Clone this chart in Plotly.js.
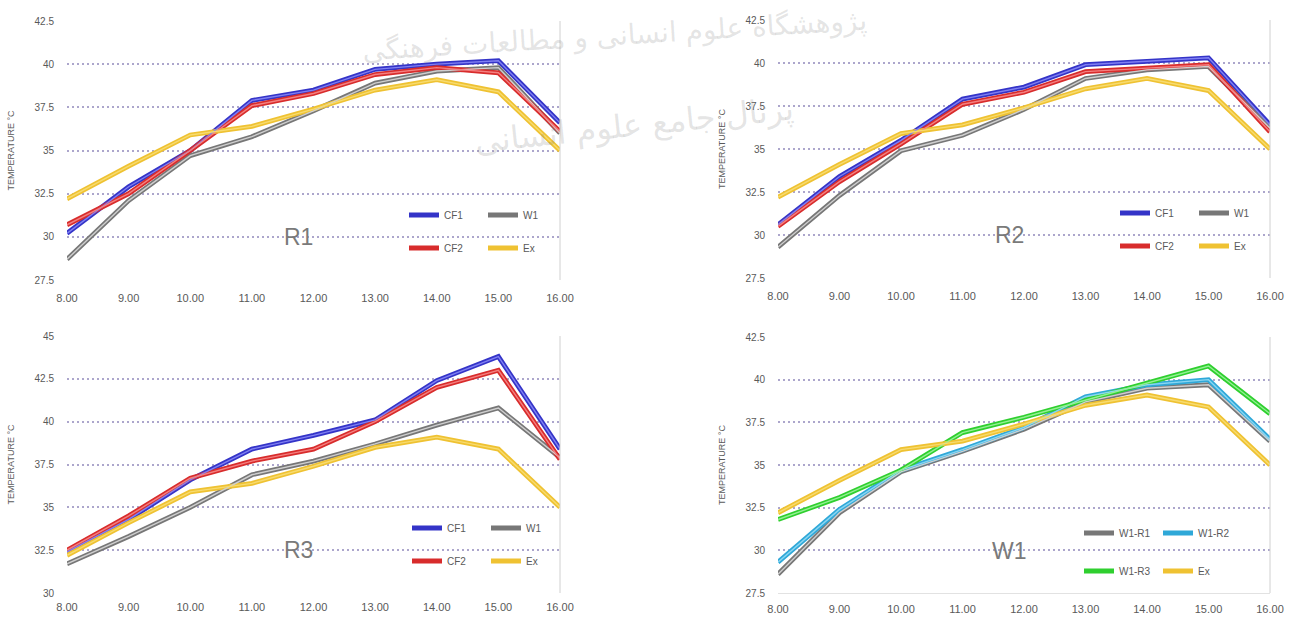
<!DOCTYPE html>
<html>
<head>
<meta charset="utf-8">
<script src="https://cdn.plot.ly/plotly-3.0.1.min.js"></script>
<style>html,body{margin:0;padding:0;background:#fff;}#chart{width:1300px;height:622px;}</style>
</head>
<body>
<div id="chart"></div>
<script>
// ---------- data ----------
const HOURS = [8, 9, 10, 11, 12, 13, 14, 15, 16];
const X_TICKS = ['8.00', '9.00', '10.00', '11.00', '12.00', '13.00', '14.00', '15.00', '16.00'];

const EX = [32.2, 34.1, 35.9, 36.4, 37.4, 38.5, 39.1, 38.4, 35.0];

const R1_CF1 = [30.2, 32.9, 35.0, 37.9, 38.5, 39.7, 40.0, 40.2, 36.6];
const R1_CF2 = [30.7, 32.5, 35.0, 37.6, 38.3, 39.4, 39.8, 39.5, 36.1];
const R1_W1  = [28.7, 32.1, 34.7, 35.8, 37.3, 38.9, 39.6, 39.8, 36.0];

const R2_CF1 = [30.6, 33.4, 35.5, 37.9, 38.6, 39.9, 40.1, 40.3, 36.4];
const R2_CF2 = [30.5, 33.1, 35.3, 37.6, 38.3, 39.5, 39.7, 39.9, 36.0];
const R2_W1  = [29.3, 32.3, 34.9, 35.8, 37.3, 39.1, 39.6, 39.8, 36.2];

const R3_CF1 = [32.4, 34.3, 36.6, 38.4, 39.2, 40.1, 42.4, 43.8, 38.4];
const R3_CF2 = [32.5, 34.5, 36.7, 37.7, 38.4, 40.0, 42.0, 43.0, 37.8];
const R3_W1  = [31.7, 33.3, 35.0, 36.9, 37.7, 38.7, 39.8, 40.8, 37.9];

const W1_R1 = [28.6, 32.2, 34.6, 35.8, 37.1, 38.7, 39.5, 39.7, 36.4];
const W1_R2 = [29.3, 32.4, 34.7, 35.9, 37.2, 39.0, 39.7, 40.0, 36.5];
const W1_R3 = [31.8, 33.1, 34.7, 36.9, 37.8, 38.8, 39.8, 40.8, 38.0];

const PANEL_LABELS = ['R1', 'R2', 'R3', 'W1'];
const Y_TITLE = 'TEMPERATURE °C';
const WATERMARK_1 = 'پژوهشگاه علوم انسانی و مطالعات فرهنگی';
const WATERMARK_2 = 'پرتال جامع علوم انسانی';

// ---------- styles ----------
const STYLE = {
  CF1: {dark: '#3434c8', light: '#8080f2'},
  CF2: {dark: '#d82c2c', light: '#f48080'},
  W1:  {dark: '#777777', light: '#cfcfcf'},
  Ex:  {dark: '#efc232', light: '#f7db70'},
  'W1-R1': {dark: '#777777', light: '#cfcfcf'},
  'W1-R2': {dark: '#2fa8d8', light: '#8ad6f2'},
  'W1-R3': {dark: '#2fcf2f', light: '#94f094'}
};

const panels = [
  {ax: '', yr: [27.5, 42.5], xd: [67, 560], yd: [21, 280], bottomLine: false, xstand: 10,
   series: [['CF1', R1_CF1, 1], ['W1', R1_W1, 1], ['CF2', R1_CF2, 2], ['Ex', EX, 2]],
   leg: [412, 215, 248]},
  {ax: '2', yr: [27.5, 42.5], xd: [778, 1270], yd: [20, 278], bottomLine: false, xstand: 10,
   series: [['CF1', R2_CF1, 1], ['W1', R2_W1, 1], ['CF2', R2_CF2, 2], ['Ex', EX, 2]],
   leg: [1123, 213, 246]},
  {ax: '3', yr: [30, 45], xd: [67, 560], yd: [336, 593], bottomLine: false, xstand: 6,
   series: [['CF1', R3_CF1, 1], ['W1', R3_W1, 1], ['CF2', R3_CF2, 2], ['Ex', EX, 2]],
   leg: [415, 528, 561]},
  {ax: '4', yr: [27.5, 42.5], xd: [778, 1270], yd: [337, 593], bottomLine: true, xstand: 6,
   series: [['W1-R1', W1_R1, 1], ['W1-R2', W1_R2, 1], ['W1-R3', W1_R3, 2], ['Ex', EX, 2]],
   leg: [1087, 533, 571]}
];

const W = 1300, H = 622;
const traces = [];
const layout = {
  width: W, height: H,
  margin: {l: 0, r: 0, t: 0, b: 0},
  paper_bgcolor: '#ffffff', plot_bgcolor: '#ffffff',
  showlegend: true,
  font: {family: 'Liberation Sans, Arial, sans-serif', color: '#595959'},
  annotations: [], shapes: []
};

let legCount = 0;
panels.forEach((p, pi) => {
  const xa = 'xaxis' + p.ax, ya = 'yaxis' + p.ax;
  const xid = 'x' + p.ax, yid = 'y' + p.ax;
  const legIds = [];
  for (let r = 0; r < 2; r++) {
    legCount++;
    const id = legCount === 1 ? 'legend' : 'legend' + legCount;
    legIds.push(id);
    layout[id] = {
      orientation: 'h', xref: 'paper', yref: 'paper',
      x: (p.leg[0] - 8) / W, y: 1 - p.leg[1 + r] / H,
      xanchor: 'left', yanchor: 'middle',
      bgcolor: 'rgba(0,0,0,0)', borderwidth: 0,
      entrywidth: 34, entrywidthmode: 'pixels',
      font: {size: 10, color: '#595959'},
      tracegroupgap: 0, itemclick: false
    };
  }
  p.series.forEach(([name, vals, row]) => {
    const st = STYLE[name];
    traces.push({
      x: HOURS, y: vals, type: 'scatter', mode: 'lines', name: name,
      xaxis: xid, yaxis: yid, legend: legIds[row - 1],
      line: {color: st.dark, width: 4.8}, hoverinfo: 'skip'
    });
  });
  p.series.forEach(([name, vals]) => {
    const st = STYLE[name];
    traces.push({
      x: HOURS, y: vals, type: 'scatter', mode: 'lines', name: name,
      xaxis: xid, yaxis: yid, showlegend: false,
      line: {color: st.light, width: 1.4}, hoverinfo: 'skip'
    });
  });

  layout[xa] = {
    domain: [p.xd[0] / W, p.xd[1] / W], anchor: yid,
    range: [8, 16], tickvals: HOURS, ticktext: X_TICKS,
    showgrid: false, zeroline: false,
    showline: p.bottomLine, linecolor: '#e2e2e2', linewidth: 1, ticks: '',
    tickfont: {size: 11, color: '#595959'}, ticklabelstandoff: p.xstand,
    fixedrange: true
  };
  layout[ya] = {
    domain: [1 - p.yd[1] / H, 1 - p.yd[0] / H], anchor: xid,
    range: p.yr, dtick: 2.5, tick0: p.yr[0],
    showgrid: true, gridcolor: '#aca6cc', griddash: '2px,3px', gridwidth: 2,
    zeroline: false, showline: false, ticks: '',
    tickfont: {size: 10, color: '#595959'}, ticklabelstandoff: 12,
    title: {text: Y_TITLE, font: {size: 9, color: '#595959'}, standoff: 18},
    fixedrange: true
  };
  // right frame line
  layout.shapes.push({
    type: 'line', xref: xid + ' domain', yref: yid + ' domain',
    x0: 1, x1: 1, y0: 0, y1: 1, line: {color: '#d0d0d0', width: 1}
  });
  // panel label
  layout.annotations.push({
    text: PANEL_LABELS[pi], xref: xid + ' domain', yref: yid + ' domain',
    x: 0.47, y: 0.166, showarrow: false, xanchor: 'center', yanchor: 'middle',
    font: {size: 23, color: '#7a7a7a', family: 'Liberation Sans, Arial, sans-serif'}
  });
});

// watermark
layout.annotations.push({
  text: WATERMARK_1, xref: 'paper', yref: 'paper', x: 614 / W, y: 1 - 36 / H,
  xanchor: 'center', yanchor: 'middle',
  showarrow: false, textangle: -3.5,
  font: {size: 28, color: 'rgba(120,120,120,0.2)', family: 'DejaVu Sans'}
});
layout.annotations.push({
  text: WATERMARK_2, xref: 'paper', yref: 'paper', x: 634 / W, y: 1 - 125 / H,
  xanchor: 'center', yanchor: 'middle',
  showarrow: false, textangle: -6,
  font: {size: 32, color: 'rgba(120,120,120,0.2)', family: 'DejaVu Sans'}
});

Plotly.newPlot('chart', traces, layout, {displayModeBar: false, staticPlot: true});
</script>
</body>
</html>
